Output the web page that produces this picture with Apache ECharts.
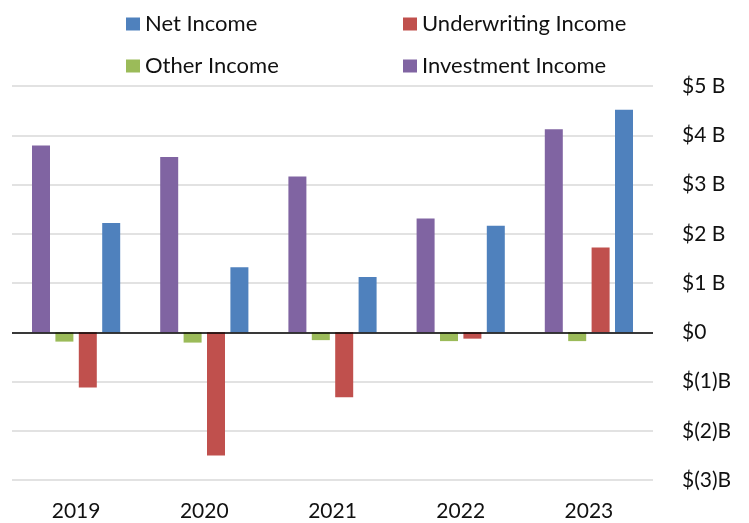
<!DOCTYPE html>
<html>
<head>
<meta charset="utf-8">
<script src="https://cdn.jsdelivr.net/npm/echarts@6/dist/echarts.min.js"></script>
<style>
  html, body { margin: 0; padding: 0; background: #fff; }
  #chart { width: 749px; height: 523px; }
</style>
</head>
<body>
<div id="chart"></div>
<script>
// Income components by year, in billions of dollars
const years = ['2019', '2020', '2021', '2022', '2023'];
const investmentIncome = [3.79, 3.56, 3.16, 2.31, 4.12];
const otherIncome = [-0.19, -0.21, -0.16, -0.18, -0.18];
const underwritingIncome = [-1.12, -2.50, -1.32, -0.13, 1.72];
const netIncome = [2.22, 1.32, 1.12, 2.16, 4.52];

const FONT = 'Lato';
const colors = {
  net: '#4F81BD',
  underwriting: '#C0504D',
  other: '#9BBB59',
  investment: '#8064A2'
};

function money(v) {
  if (v === 0) return '$0';
  if (v < 0) return '$(' + (-v) + ')B';
  return '$' + v + ' B';
}

// One legend per entry so the 2x2 arrangement can be placed freely
function legendAt(name, left, top) {
  return {
    data: [name],
    left: left,
    top: top,
    padding: 0,
    itemWidth: 14,
    itemHeight: 13,
    icon: 'rect',
    selectedMode: false,
    textStyle: { fontFamily: FONT, fontSize: 22, color: '#111' }
  };
}

const barBase = { type: 'bar', barWidth: 18, barGap: '30%' };

const chart = echarts.init(document.getElementById('chart'));
chart.setOption({
  animation: false,
  backgroundColor: '#fff',
  legend: [
    legendAt('Net Income', 126, 13),
    legendAt('Underwriting Income', 403, 13),
    legendAt('Other Income', 126, 55),
    legendAt('Investment Income', 403, 55)
  ],
  grid: { left: 12, right: 96, top: 86, bottom: 43 },
  xAxis: {
    type: 'category',
    data: years,
    axisLine: { show: false, onZero: false },
    axisTick: { show: false },
    axisLabel: { fontFamily: FONT, fontSize: 21, color: '#111', margin: 21 }
  },
  yAxis: {
    type: 'value',
    position: 'right',
    min: -3,
    max: 5,
    interval: 1,
    axisLine: { show: false },
    axisTick: { show: false },
    splitLine: { lineStyle: { color: '#d9d9d9', width: 1.5 } },
    axisLabel: {
      fontFamily: FONT, fontSize: 21, color: '#111', margin: 29,
      formatter: money
    }
  },
  series: [
    Object.assign({}, barBase, {
      name: 'Investment Income', data: investmentIncome,
      itemStyle: { color: colors.investment }
    }),
    Object.assign({}, barBase, {
      name: 'Other Income', data: otherIncome,
      itemStyle: { color: colors.other }
    }),
    Object.assign({}, barBase, {
      name: 'Underwriting Income', data: underwritingIncome,
      itemStyle: { color: colors.underwriting }
    }),
    Object.assign({}, barBase, {
      name: 'Net Income', data: netIncome,
      itemStyle: { color: colors.net },
      markLine: {
        silent: true,
        symbol: 'none',
        label: { show: false },
        lineStyle: { color: '#000', width: 1.5, type: 'solid' },
        data: [{ yAxis: 0 }]
      }
    })
  ]
});
</script>
</body>
</html>
